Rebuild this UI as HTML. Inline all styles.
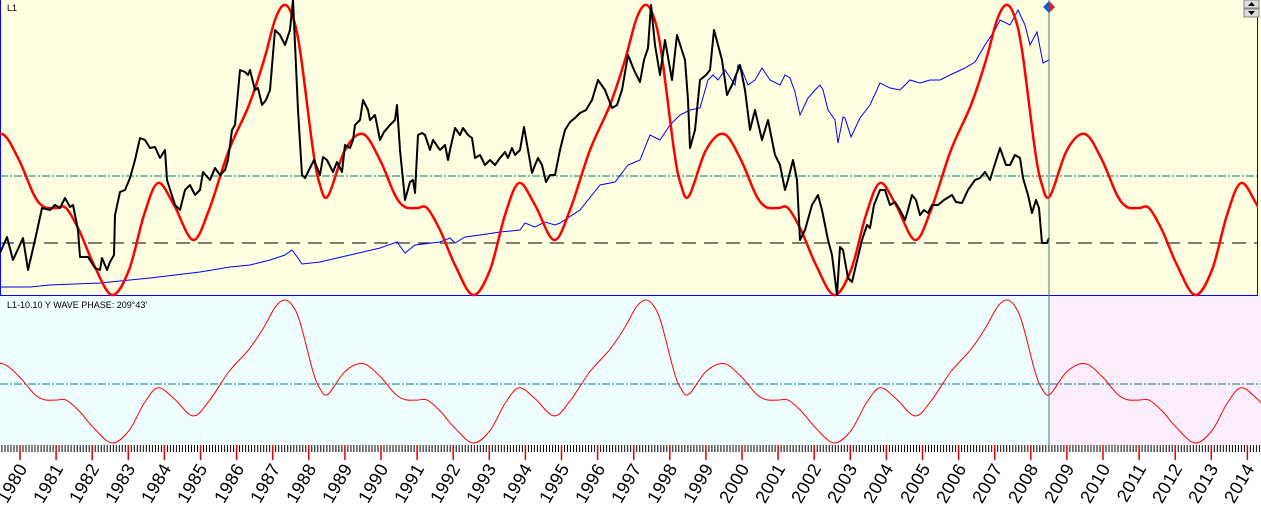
<!DOCTYPE html>
<html><head><meta charset="utf-8"><style>
body{margin:0;width:1261px;height:513px;overflow:hidden;background:#fff;font-family:"Liberation Sans",sans-serif}
svg{display:block}
</style></head><body>
<svg id="s" width="1261" height="513" xmlns="http://www.w3.org/2000/svg">
<defs>
<clipPath id="c1"><rect x="0" y="0" width="1258" height="297"/></clipPath>
<clipPath id="c2"><rect x="0" y="297" width="1261" height="148"/></clipPath>
</defs>
<rect x="0" y="0" width="1261" height="296" fill="#fefee0"/>
<rect x="0" y="296" width="1049" height="149" fill="#eefefe"/>
<rect x="1049" y="296" width="212" height="149" fill="#fdeefd"/>
<line x1="0.5" y1="0" x2="0.5" y2="296" stroke="#0000ff" stroke-width="1"/>
<line x1="1257.5" y1="0" x2="1257.5" y2="296" stroke="#0000ff" stroke-width="1"/>
<line x1="0" y1="295.5" x2="1258" y2="295.5" stroke="#0000ff" stroke-width="1"/>
<line x1="0" y1="176" x2="1258" y2="176" stroke="#008080" stroke-dasharray="8,2,2,2"/>
<line x1="0" y1="243" x2="1258" y2="243" stroke="#000" stroke-dasharray="14,8"/>
<line x1="0" y1="384" x2="1261" y2="384" stroke="#008080" stroke-dasharray="8,2,2,2"/>
<g id="dyn"></g>
<line x1="1049" y1="0" x2="1049" y2="445" stroke="#4a7a70" stroke-width="1"/>
<polygon points="1049,1 1055,7 1049,13 1043,7" fill="#1060d0"/>
<polygon points="1049,1 1055,7 1049,13" fill="#e02020"/>
<rect x="1244" y="0" width="15" height="8" fill="#ddd" stroke="#888"/>
<rect x="1244" y="9" width="15" height="8" fill="#ddd" stroke="#888"/>
<polygon points="1248,6 1251.5,2 1255,6" fill="#000"/>
<polygon points="1248,11 1251.5,15 1255,11" fill="#000"/>
<text x="7" y="11" font-size="9" fill="#000">L1</text>
<text x="7" y="308" font-size="9" fill="#000">L1-10.10 Y WAVE PHASE: 209°43'</text>
<g font-size="18" fill="#000" text-anchor="end" letter-spacing="0.5">
<text transform="translate(28,468) rotate(-60)">1980</text>
<text transform="translate(64,468) rotate(-60)">1981</text>
<text transform="translate(100,468) rotate(-60)">1982</text>
<text transform="translate(136,468) rotate(-60)">1983</text>
<text transform="translate(172,468) rotate(-60)">1984</text>
<text transform="translate(208,468) rotate(-60)">1985</text>
<text transform="translate(245,468) rotate(-60)">1986</text>
<text transform="translate(281,468) rotate(-60)">1987</text>
<text transform="translate(317,468) rotate(-60)">1988</text>
<text transform="translate(353,468) rotate(-60)">1989</text>
<text transform="translate(389,468) rotate(-60)">1990</text>
<text transform="translate(425,468) rotate(-60)">1991</text>
<text transform="translate(461,468) rotate(-60)">1992</text>
<text transform="translate(497,468) rotate(-60)">1993</text>
<text transform="translate(533,468) rotate(-60)">1994</text>
<text transform="translate(570,468) rotate(-60)">1995</text>
<text transform="translate(606,468) rotate(-60)">1996</text>
<text transform="translate(642,468) rotate(-60)">1997</text>
<text transform="translate(678,468) rotate(-60)">1998</text>
<text transform="translate(714,468) rotate(-60)">1999</text>
<text transform="translate(750,468) rotate(-60)">2000</text>
<text transform="translate(786,468) rotate(-60)">2001</text>
<text transform="translate(822,468) rotate(-60)">2002</text>
<text transform="translate(858,468) rotate(-60)">2003</text>
<text transform="translate(894,468) rotate(-60)">2004</text>
<text transform="translate(931,468) rotate(-60)">2005</text>
<text transform="translate(967,468) rotate(-60)">2006</text>
<text transform="translate(1003,468) rotate(-60)">2007</text>
<text transform="translate(1039,468) rotate(-60)">2008</text>
<text transform="translate(1075,468) rotate(-60)">2009</text>
<text transform="translate(1111,468) rotate(-60)">2010</text>
<text transform="translate(1147,468) rotate(-60)">2011</text>
<text transform="translate(1183,468) rotate(-60)">2012</text>
<text transform="translate(1219,468) rotate(-60)">2013</text>
<text transform="translate(1255,468) rotate(-60)">2014</text>
</g>
</svg>
<script>
(function(){
var NS="http://www.w3.org/2000/svg",g=document.getElementById("dyn");
function add(tag,a){var e=document.createElementNS(NS,tag);for(var k in a)e.setAttribute(k,a[k]);g.appendChild(e);return e;}
var t="";for(var i=0;i<35*12+12;i++){var x=20+i*36.1/12-36.1/12*6;if(x<0||x>1261)continue;t+="M"+x.toFixed(1)+" 445V452";}
add("path",{d:t,stroke:"#000","stroke-width":1,fill:"none"});
var r="";for(var i=0;i<35;i++){var x=20+i*36.1;r+="M"+x.toFixed(1)+" 445V460";}
add("path",{d:r,stroke:"#e00000","stroke-width":1.5,fill:"none"});
var K=[[0,5],[8,15],[16,50],[29,150],[36,185],[44,196],[61,150],[79,134],[96,160],[111,195],[121,207],[133,208],[143,208],[156,230],[171,265],[189,295],[206,270],[221,215],[235,183],[251,205],[270,240],[286,210],[306,150],[326,105],[341,60],[352,20],[361,5]];
var P=[];for(var c=-2;c<=2;c++){for(var j=0;j<K.length-1;j++)P.push([284+c*361+K[j][0],K[j][1]]);}
P.sort(function(a,b){return a[0]-b[0]});
function cr(pts){var d="M"+pts[0][0]+" "+pts[0][1];for(var i=0;i<pts.length-1;i++){var p0=pts[Math.max(0,i-1)],p1=pts[i],p2=pts[i+1],p3=pts[Math.min(pts.length-1,i+2)];
d+="C"+(p1[0]+(p2[0]-p0[0])/6).toFixed(1)+" "+(p1[1]+(p2[1]-p0[1])/6).toFixed(1)+" "+(p2[0]-(p3[0]-p1[0])/6).toFixed(1)+" "+(p2[1]-(p3[1]-p1[1])/6).toFixed(1)+" "+p2[0]+" "+p2[1];}return d;}
var topPts=P.filter(function(p){return p[0]>-100&&p[0]<1400});
var botPts=topPts.map(function(p){return[p[0],Math.round((300+(p[1]-5)*0.493)*10)/10]});
add("path",{d:cr(botPts),stroke:"#ff0000","stroke-width":1,fill:"none","clip-path":"url(#c2)"});
var B=[[0,287],[30,287],[50,285],[100,283],[130,280],[150,278],[200,272],[230,267],[250,265],[270,260],[285,255],[292,250],[298,258],[302,264],[320,262],[350,255],[380,248],[397,242],[405,253],[415,245],[440,242],[450,238],[455,243],[465,237],[480,235],[500,232],[520,230],[525,223],[535,227],[545,222],[555,225],[560,223],[580,210],[600,185],[615,182],[628,165],[640,160],[650,135],[660,140],[670,125],[680,115],[690,110],[700,108],[708,80],[713,75],[718,80],[725,70],[735,85],[738,65],[742,70],[748,85],[755,80],[762,68],[770,80],[780,85],[785,75],[790,78],[795,92],[800,115],[808,98],[815,90],[820,85],[823,90],[828,110],[835,120],[838,143],[843,117],[845,118],[851,137],[860,118],[870,105],[880,83],[890,88],[900,90],[910,80],[920,83],[930,80],[940,80],[950,75],[965,68],[975,62],[985,45],[995,30],[1000,20],[1010,25],[1018,10],[1025,25],[1030,45],[1037,32],[1043,63],[1049,60]];
add("polyline",{points:B.map(function(p){return p.join(",")}).join(" "),stroke:"#0000ff","stroke-width":1,fill:"none"});
add("path",{d:cr(topPts),stroke:"#ff0000","stroke-width":2.5,fill:"none","clip-path":"url(#c1)"});
var Bk=[[0,253],[7,237],[13,260],[23,238],[28,270],[35,240],[42,208],[50,210],[55,205],[60,208],[65,198],[70,207],[73,205],[78,230],[80,257],[88,257],[95,268],[100,270],[102,258],[107,270],[110,262],[114,255],[115,215],[120,192],[125,190],[130,178],[135,160],[140,138],[145,140],[150,148],[155,147],[160,158],[165,150],[167,180],[175,205],[180,210],[185,190],[190,185],[195,195],[200,190],[203,172],[210,180],[215,168],[220,175],[225,170],[228,160],[232,130],[235,125],[240,70],[245,72],[248,75],[250,70],[255,90],[258,88],[262,105],[266,100],[270,90],[275,30],[280,35],[285,45],[290,30],[293,0],[298,110],[302,175],[305,178],[314,160],[320,175],[323,157],[327,160],[333,172],[337,162],[342,172],[345,145],[350,148],[353,140],[355,125],[360,120],[363,100],[368,110],[370,120],[375,115],[380,140],[384,132],[390,125],[395,120],[397,105],[400,150],[405,200],[410,182],[413,180],[415,193],[418,135],[422,133],[425,135],[430,150],[433,140],[440,150],[445,145],[448,160],[450,150],[455,128],[460,135],[463,128],[468,135],[472,138],[475,158],[480,155],[485,165],[490,160],[495,165],[500,158],[505,152],[508,158],[512,148],[515,155],[520,150],[524,127],[528,150],[532,173],[535,165],[538,158],[542,165],[546,182],[550,175],[555,175],[560,150],[565,130],[570,122],[575,118],[580,113],[586,110],[592,100],[598,80],[605,90],[612,108],[617,105],[622,90],[628,55],[634,70],[640,82],[644,60],[648,48],[651,5],[655,45],[660,75],[665,40],[672,80],[677,35],[685,60],[688,100],[690,148],[695,130],[700,80],[706,75],[710,70],[714,30],[718,45],[722,60],[727,95],[732,85],[740,65],[745,90],[750,130],[755,110],[762,140],[768,120],[775,155],[780,165],[785,190],[788,180],[793,160],[797,180],[800,240],[805,230],[812,205],[818,195],[822,210],[828,240],[832,255],[837,295],[840,247],[843,250],[848,278],[852,282],[856,265],[862,240],[867,225],[870,228],[874,205],[880,190],[885,190],[890,205],[895,202],[900,210],[905,220],[908,210],[912,195],[916,200],[920,215],[924,210],[928,213],[932,205],[938,205],[944,200],[952,195],[956,202],[962,203],[968,190],[975,180],[980,178],[985,172],[990,180],[993,170],[1000,148],[1006,165],[1010,165],[1015,155],[1020,158],[1023,178],[1028,195],[1032,213],[1036,200],[1039,208],[1042,243],[1047,243],[1049,238]];
add("polyline",{points:Bk.map(function(p){return p.join(",")}).join(" "),stroke:"#000","stroke-width":2,fill:"none","stroke-linejoin":"round"});
})();
</script>
</body></html>
